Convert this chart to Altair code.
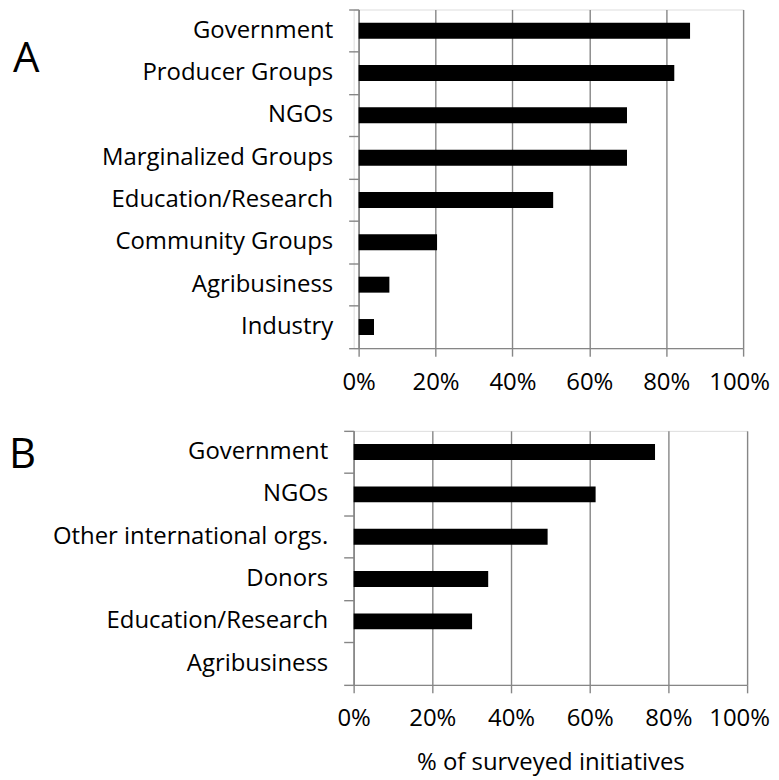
import altair as alt
import pandas as pd

# ---- data ----
cats_a = ["Government", "Producer Groups", "NGOs", "Marginalized Groups",
          "Education/Research", "Community Groups", "Agribusiness", "Industry"]
vals_a = [0.862, 0.821, 0.698, 0.698, 0.506, 0.204, 0.080, 0.040]

cats_b = ["Government", "NGOs", "Other international orgs.", "Donors",
          "Education/Research", "Agribusiness"]
vals_b = [0.766, 0.615, 0.493, 0.342, 0.301, 0.0]

x_ticks = [0, 0.2, 0.4, 0.6, 0.8, 1.0]
panel_a = ["A"]
panel_b = ["B"]
x_title = "% of surveyed initiatives"

df_a = pd.DataFrame({"cat": cats_a, "v": vals_a})
df_b = pd.DataFrame({"cat": cats_b, "v": vals_b})

FONT = "Open Sans"
GRAY = "#868686"


def x_axis(last_shift, title=None):
    kw = dict(values=x_ticks, format=".0%", grid=True, gridColor=GRAY,
              gridWidth=1.4, domainColor=GRAY, domainWidth=1.4,
              tickColor=GRAY, tickWidth=1.4, tickSize=8,
              labelFont=FONT, labelFontSize=24, labelColor="black",
              labelPadding=14, labelFlush=False,
              labelOffset=alt.ExprRef(f"datum.value >= 1 ? {last_shift} : 0"))
    if title:
        kw.update(title=title, titleFont=FONT, titleFontSize=24,
                  titleFontWeight="normal", titleColor="black",
                  titlePadding=20)
    else:
        kw.update(title=None)
    return alt.Axis(**kw)


def y_axis(offset=0):
    return alt.Axis(title=None, bandPosition=1, tickExtra=True,
                    domainColor=GRAY, domainWidth=1.4, tickColor=GRAY,
                    tickWidth=1.4, tickSize=10,
                    labelFont=FONT, labelFontSize=24, labelColor="black",
                    labelPadding=16, labelLimit=0, grid=False, offset=offset)


bars_a = alt.Chart(df_a).mark_bar(color="black", size=16).encode(
    x=alt.X("v:Q", scale=alt.Scale(domain=[0, 1], range=[5, 391]),
            axis=x_axis(-4)),
    y=alt.Y("cat:N", sort=cats_a,
            scale=alt.Scale(paddingInner=0, paddingOuter=0),
            axis=y_axis(offset=-5)),
)
lab_a = alt.Chart(pd.DataFrame({"t": panel_a})).mark_text(
    font=FONT, fontSize=42, align="left", baseline="alphabetic",
    color="black").encode(x=alt.value(-342), y=alt.value(63), text="t:N")

chart_a = alt.layer(bars_a, lab_a).properties(width=391, height=340)

bars_b = alt.Chart(df_b).mark_bar(color="black", size=16).encode(
    x=alt.X("v:Q", scale=alt.Scale(domain=[0, 1]), axis=x_axis(-8, x_title)),
    y=alt.Y("cat:N", sort=cats_b,
            scale=alt.Scale(paddingInner=0, paddingOuter=0),
            axis=y_axis()),
)
lab_b = alt.Chart(pd.DataFrame({"t": panel_b})).mark_text(
    font=FONT, fontSize=42, align="left", baseline="alphabetic",
    color="black").encode(x=alt.value(-346), y=alt.value(37), text="t:N")

chart_b = alt.layer(bars_b, lab_b).properties(width=395, height=255)

chart = alt.vconcat(chart_a, chart_b, spacing=23).properties(
    padding={"top": -13, "left": 0, "right": 0, "bottom": 0}
).configure_view(stroke=None).configure(background="white")

chart.save("out.html", embed_options={"renderer": "svg", "actions": False})
